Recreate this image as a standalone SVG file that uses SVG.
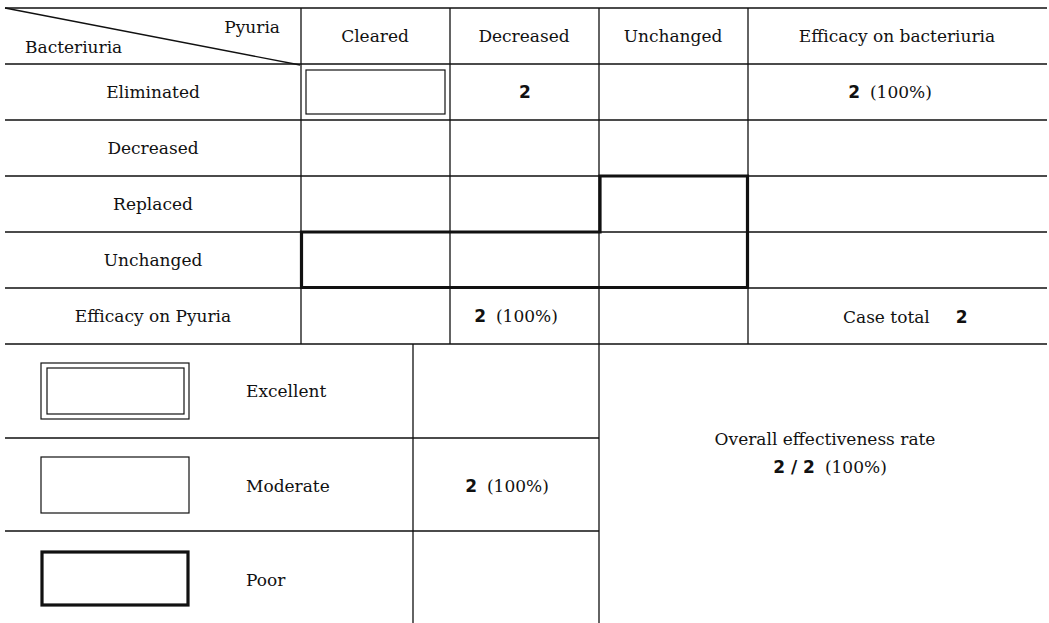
<svg xmlns="http://www.w3.org/2000/svg" width="1049" height="623" viewBox="0 0 1049 623">
<style>
.g{stroke:#111;stroke-width:1.3;fill:none}
.thick{stroke:#111;stroke-width:3.2;fill:none}
.box{stroke:#111;stroke-width:1.2;fill:none}
text{font-family:"DejaVu Serif","Liberation Serif",serif;font-size:17px;fill:#111}
.c{text-anchor:middle}
.b{font-family:"DejaVu Sans","Liberation Sans",sans-serif;font-weight:bold}
</style>
<rect width="1049" height="623" fill="#fff"/>
<g id="grid">
<path class="g" d="M5 8H1047M5 64H1047M5 120H1047M5 176H1047M5 232H1047M5 288H1047M5 344H1047M5 438H599M5 531H599"/>
<path class="g" d="M301 8V344M450 8V344M599 8V623M748 8V344M413 344V623"/>
<path class="g" d="M5 8L300 65"/>
</g>
<g id="header">
<text x="280" y="33" text-anchor="end">Pyuria</text>
<text x="25" y="53">Bacteriuria</text>
<text class="c" x="375" y="42">Cleared</text>
<text class="c" x="524" y="42">Decreased</text>
<text class="c" x="673" y="42">Unchanged</text>
<text class="c" x="897" y="42">Efficacy on bacteriuria</text>
</g>
<g id="rows">
<text class="c" x="153" y="98">Eliminated</text>
<text class="c" x="153" y="154">Decreased</text>
<text class="c" x="153" y="210">Replaced</text>
<text class="c" x="153" y="266">Unchanged</text>
<text class="c" x="153" y="322">Efficacy on Pyuria</text>
</g>
<g id="cells">
<rect class="box" x="306" y="70" width="139" height="44"/>
<text class="c b" x="525" y="98">2</text>
<text class="c" x="890" y="98"><tspan class="b">2</tspan><tspan dx="10">(100%)</tspan></text>
<text class="c" x="516" y="322"><tspan class="b">2</tspan><tspan dx="10">(100%)</tspan></text>
<text x="843" y="323">Case total<tspan class="b" dx="26">2</tspan></text>
<path class="thick" d="M301.5 232H600V176H747.5V287.5H301.5Z"/>
</g>
<g id="legend-excellent">
<rect class="box" x="41" y="363" width="148" height="56"/>
<rect class="box" x="47" y="368" width="137" height="46"/>
<text x="246" y="397">Excellent</text>
</g>
<g id="legend-moderate">
<rect class="box" x="41" y="457" width="148" height="56"/>
<text x="246" y="492">Moderate</text>
<text class="c" x="507" y="492"><tspan class="b">2</tspan><tspan dx="10">(100%)</tspan></text>
</g>
<g id="legend-poor">
<rect class="thick" x="42" y="552" width="146" height="53"/>
<text x="246" y="586">Poor</text>
</g>
<g id="overall">
<text class="c" x="825" y="445">Overall effectiveness rate</text>
<text class="c" x="830" y="473"><tspan class="b">2 / 2</tspan><tspan dx="10">(100%)</tspan></text>
</g>
</svg>
